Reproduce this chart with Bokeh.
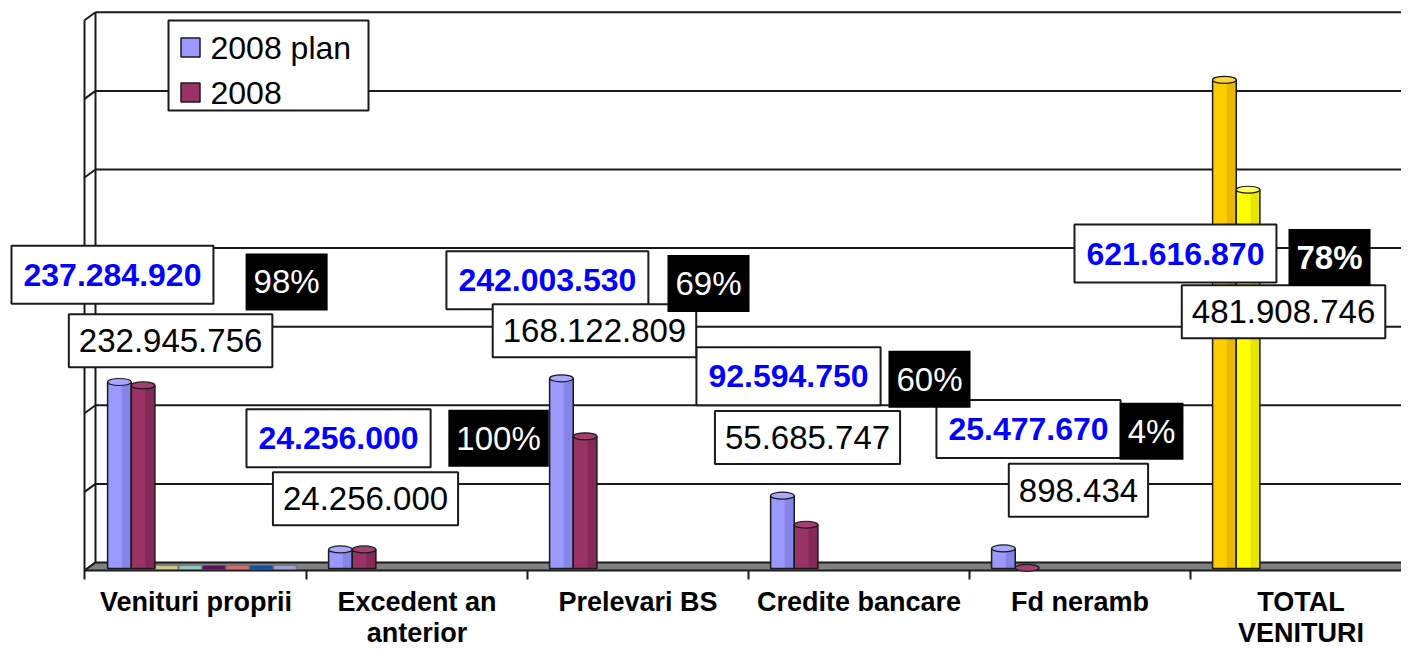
from bokeh.plotting import figure
from bokeh.models import Range1d, ColumnDataSource
from bokeh.core.properties import value
from bokeh.embed import file_html
from bokeh.resources import INLINE

# ---------------- data ----------------
categories = ["Venituri proprii", "Excedent an\nanterior", "Prelevari BS",
              "Credite bancare", "Fd neramb", "TOTAL\nVENITURI"]
series_names = ["2008 plan", "2008"]
plan = [237284920, 24256000, 242003530, 92594750, 25477670, 621616870]
actual = [232945756, 24256000, 168122809, 55685747, 898434, 481908746]
# empty extra series that Excel shows as flat slivers in the first category
extra_values = [0, 0, 0, 0, 0, 0]

# ---------------- style / layout ----------------
plan_colors = ["#9999ff"] * 5 + ["#ffcc00"]
actual_colors = ["#993366"] * 5 + ["#ffff00"]
plan_dark = ["#8585e8"] * 5 + ["#e9b800"]
actual_dark = ["#852a57"] * 5 + ["#e6e600"]
plan_cap = ["#a8a8ff"] * 5 + ["#ffd633"]
actual_cap = ["#a34070"] * 5 + ["#ffff55"]
extra_colors = ["#c8c890", "#90c8c0", "#5a105a", "#d86a6a", "#1050a8", "#a0a0d8"]

# label placement (x offset within category, y in millions)
plan_lab_dx = [0.122, 0.145, 0.090, 0.181, 0.267, -0.068]
plan_lab_y = [366, 158, 359, 237, 170, 393]
act_lab_dx = [0.385, 0.267, 0.303, 0.267, 0.493, 0.421]
act_lab_y = [282, 81, 295, 159, 92, 319]
pct_lab_dx = [0.910, 0.869, 0.819, 0.819, 0.824, 0.629]
pct_lab_y = [357, 158, 355, 233, 167, 388]

W, H = 1401, 647
X0, X1 = -85 / 221, (W - 85) / 221
Y0, Y1 = -(H - 562) / 0.786 * 1e6, 562 / 0.786 * 1e6
SX = W / (X1 - X0)
SY = H / (Y1 - Y0)


def dx(px):
    return px / SX


def dy(px):
    return px / SY


FONT = value("Liberation Sans")
SLOT = 0.107
SLOT0 = 0.1
BACK_X = dx(10)              # back wall line
FRONT_X = -dx(1)             # front wall line
FLOOR_D = dy(8)              # floor depth
BAR_D = dy(6)                # bar base offset
GRID = [k * 1e8 for k in range(1, 8)]

p = figure(width=W, height=H, x_range=Range1d(X0, X1), y_range=Range1d(Y0, Y1),
           output_backend="svg", toolbar_location=None,
           x_axis_location=None, y_axis_location=None, min_border=0,
           outline_line_color=None, background_fill_color="white",
           border_fill_color="white")
p.grid.visible = False

# gridlines
p.segment(x0=[BACK_X] * len(GRID), y0=GRID, x1=[X1 + 1] * len(GRID), y1=GRID,
          line_color="#1a1a1a", line_width=2)

# left wall
p.segment(x0=[BACK_X], y0=[0], x1=[BACK_X], y1=[GRID[-1]], line_color="#1a1a1a", line_width=2)
p.segment(x0=[FRONT_X], y0=[-FLOOR_D - dy(9)], x1=[FRONT_X], y1=[GRID[-1] - FLOOR_D],
          line_color="#1a1a1a", line_width=2)
ticks_y = [0] + GRID
p.segment(x0=[FRONT_X] * len(ticks_y), y0=[g - FLOOR_D for g in ticks_y],
          x1=[BACK_X] * len(ticks_y), y1=ticks_y, line_color="#1a1a1a", line_width=2)

# floor
p.patch(x=[FRONT_X, BACK_X, X1 + 1, X1 + 1], y=[-FLOOR_D, 0, 0, -FLOOR_D],
        fill_color="#808080", line_color="#1a1a1a", line_width=2)
bx = list(range(1, len(categories)))
p.segment(x0=bx, y0=[-FLOOR_D] * len(bx), x1=bx, y1=[-FLOOR_D - dy(9)] * len(bx),
          line_color="#1a1a1a", line_width=2)

# extra empty series slivers (first category)
ex_x = [SLOT0 + SLOT * (k + 2.5) for k in range(len(extra_values))]
p.vbar(x=ex_x, bottom=[-FLOOR_D + dy(1)] * len(ex_x),
       top=[v - FLOOR_D + dy(5) for v in extra_values], width=SLOT * 0.95,
       fill_color=extra_colors, line_color="#555555", line_width=0.5)


# bars
def draw_bars(vals, slot, colors, darks, caps):
    xs = [i + SLOT0 + SLOT * (slot + 0.5) for i in range(len(vals))]
    tops = [v - BAR_D for v in vals]
    bottoms = [-BAR_D] * len(vals)
    src = ColumnDataSource(dict(x=xs, top=tops, bottom=bottoms, c=colors, d=darks, cap=caps,
                                xs=[x + SLOT * 0.3 for x in xs]))
    p.vbar(x="x", top="top", bottom="bottom", width=SLOT, fill_color="c", line_color=None, source=src)
    p.vbar(x="xs", top="top", bottom="bottom", width=SLOT * 0.4, fill_color="d", line_color=None, source=src)
    p.vbar(x="x", top="top", bottom="bottom", width=SLOT, fill_color=None,
           line_color="#1a1a1a", line_width=1.5, source=src)
    p.ellipse(x="x", y="top", width=SLOT, height=7, height_units="screen",
              fill_color="cap", line_color="#1a1a1a", line_width=1.2, source=src)


draw_bars(plan, 0, plan_colors, plan_dark, plan_cap)
draw_bars(actual, 1, actual_colors, actual_dark, actual_cap)

# category labels
p.text(x=[i + 0.5 for i in range(len(categories))], y=[dy(562 - 586)] * len(categories),
       text=categories, text_font=FONT, text_font_size="27px", text_font_style="bold",
       text_align="center", text_baseline="top", text_line_height=1.05, text_color="black")


def fmt(v):
    return f"{v:,}".replace(",", ".")


pcts = [round(a / b * 100) for a, b in zip(actual, plan)]

# plan labels
p.text(x=[i + d for i, d in enumerate(plan_lab_dx)], y=[v * 1e6 for v in plan_lab_y],
       text=[fmt(v) for v in plan], text_font=FONT, text_font_size="32px", text_font_style="bold",
       text_color="#0000ff", text_align="center", text_baseline="middle",
       background_fill_color="white", border_line_color="#1a1a1a", border_line_width=2,
       padding=dict(left=12, right=12, top=18, bottom=18))
# actual labels
p.text(x=[i + d for i, d in enumerate(act_lab_dx)], y=[v * 1e6 for v in act_lab_y],
       text=[fmt(v) for v in actual], text_font=FONT, text_font_size="33px",
       text_color="black", text_align="center", text_baseline="middle",
       background_fill_color="white", border_line_color="#1a1a1a", border_line_width=2,
       padding=dict(left=10, right=10, top=15, bottom=15))
# percent labels
psrc = ColumnDataSource(dict(
    x=[i + d for i, d in enumerate(pct_lab_dx)], y=[v * 1e6 for v in pct_lab_y],
    text=[f"{v}%" for v in pcts],
    style=["normal"] * (len(pcts) - 1) + ["bold"]))
p.text(x="x", y="y", text="text", text_font_style="style", source=psrc, text_font=FONT,
       text_font_size="33px", text_color="white", text_align="center", text_baseline="middle",
       background_fill_color="black", border_line_color=None,
       padding=dict(left=8, right=8, top=10, bottom=10))

# legend
lx = dx(268 - 85)
p.rect(x=[lx], y=[dy(562 - 65)], width=200, height=90, width_units="screen", height_units="screen",
       fill_color="white", line_color="#1a1a1a", line_width=2)
leg_y = [dy(562 - 47), dy(562 - 92)]
p.rect(x=[dx(190 - 85)] * 2, y=leg_y, width=19, height=19, width_units="screen", height_units="screen",
       fill_color=[plan_colors[0], actual_colors[0]], line_color="#1a1a1a", line_width=1.5)
p.text(x=[dx(210 - 85)] * 2, y=leg_y, text=series_names, text_font=FONT, text_font_size="32px",
       text_color="black", text_align="left", text_baseline="middle")

open("out.html", "w").write(file_html(p, INLINE))
